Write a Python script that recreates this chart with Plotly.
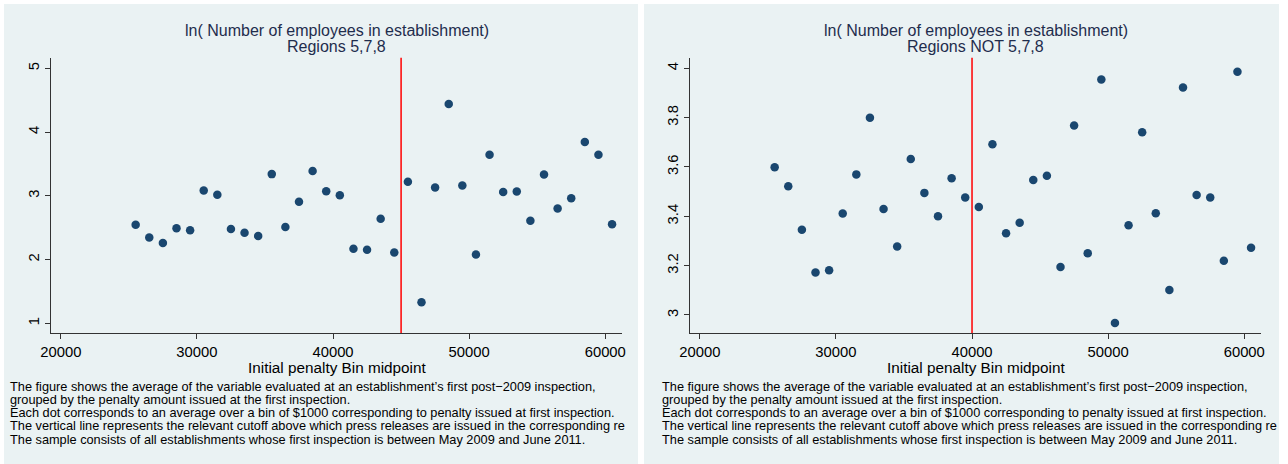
import plotly.graph_objects as go

W, H = 1288, 464

# ---- data ----
bins = [25500 + 1000 * i for i in range(36)]
left_vals = [2.545, 2.345, 2.26, 2.49, 2.46, 3.084, 3.016, 2.48, 2.42, 2.37,
             3.34, 2.51, 2.906, 3.39, 3.07, 3.01, 2.168, 2.152, 2.64, 2.11,
             3.22, 1.33, 3.13, 4.44, 3.16, 2.08, 3.644, 3.058, 3.068, 2.61,
             3.335, 2.80, 2.96, 3.843, 3.644, 2.555]
right_vals = [3.599, 3.522, 3.346, 3.172, 3.181, 3.411, 3.570, 3.80, 3.430, 3.278,
              3.632, 3.495, 3.40, 3.554, 3.476, 3.438, 3.692, 3.331, 3.374, 3.547,
              3.564, 3.195, 3.768, 3.25, 3.955, 2.968, 3.364, 3.741, 3.412, 3.101,
              3.922, 3.486, 3.476, 3.22, 3.986, 3.273]
left_cutoff = 45000
right_cutoff = 40000
x_ticks = [20000, 30000, 40000, 50000, 60000]
x_ticklabels = ["20000", "30000", "40000", "50000", "60000"]
left_yticks = [1, 2, 3, 4, 5]
left_yticklabels = ["1", "2", "3", "4", "5"]
right_yticks = [3, 3.2, 3.4, 3.6, 3.8, 4]
right_yticklabels = ["3", "3.2", "3.4", "3.6", "3.8", "4"]
title_main = "ln( Number of employees in establishment)"
left_sub = "Regions 5,7,8"
right_sub = "Regions NOT 5,7,8"
x_title = "Initial penalty Bin midpoint"
caption_lines = [
    "The figure shows the average of the variable evaluated at an establishment\u2019s first post\u22122009 inspection,",
    "grouped by the penalty amount issued at the first inspection.",
    "Each dot corresponds to an average over a bin of $1000 corresponding to penalty issued at first inspection.",
    "The vertical line represents the relevant cutoff above which press releases are issued in the corresponding re",
    "The sample consists of all establishments whose first inspection is between May 2009 and June 2011.",
]

# ---- styling ----
FONT = "Liberation Sans"
NAVY = "#1a476f"
BG = "#eaf2f3"
AXC = "#333333"

def px(x):
    return x / W

def py(y):
    return 1 - y / H

fig = go.Figure()
fig.add_trace(go.Scatter(x=bins, y=left_vals, mode="markers", xaxis="x", yaxis="y",
                         marker=dict(color=NAVY, size=8.5), showlegend=False, hoverinfo="skip"))
fig.add_trace(go.Scatter(x=bins, y=right_vals, mode="markers", xaxis="x2", yaxis="y2",
                         marker=dict(color=NAVY, size=8.5), showlegend=False, hoverinfo="skip"))

plot_top, plot_bot = 57.7, 333
ydom = [py(plot_bot), py(plot_top)]
common_x = dict(range=[19280, 61230], tickvals=x_ticks, ticktext=x_ticklabels,
                showgrid=False, zeroline=False, automargin=False,
                showline=True, linecolor=AXC, linewidth=1, ticks="outside", ticklen=5,
                tickcolor=AXC, tickfont=dict(family=FONT, size=14.8, color="black"))
common_y = dict(showgrid=True, gridcolor=BG, gridwidth=1, zeroline=False, automargin=False,
                showline=True, linecolor=AXC, linewidth=1, ticks="outside", ticklen=5,
                tickcolor=AXC, tickangle=-90,
                tickfont=dict(family=FONT, size=14.8, color="black"))

fig.update_layout(
    width=W, height=H, margin=dict(l=0, r=0, t=0, b=0, pad=0, autoexpand=False),
    paper_bgcolor="white", plot_bgcolor="white",
    xaxis=dict(domain=[px(51), px(622)], anchor="y", **common_x),
    yaxis=dict(domain=ydom, anchor="x", range=[0.848, 5.166], tickvals=left_yticks,
               ticktext=left_yticklabels, **common_y),
    xaxis2=dict(domain=[px(690), px(1261)], anchor="y2", **common_x),
    yaxis2=dict(domain=ydom, anchor="x2", range=[2.927, 4.043], tickvals=right_yticks,
                ticktext=right_yticklabels, **common_y),
)

shapes = [
    dict(type="rect", xref="paper", yref="paper", x0=px(4), x1=px(638), y0=0, y1=py(4),
         fillcolor=BG, line=dict(width=0), layer="below"),
    dict(type="rect", xref="paper", yref="paper", x0=px(644), x1=px(1279), y0=0, y1=py(4),
         fillcolor=BG, line=dict(width=0), layer="below"),
    dict(type="line", xref="x", yref="y domain", x0=left_cutoff, x1=left_cutoff, y0=0, y1=1,
         line=dict(color="red", width=1.5)),
    dict(type="line", xref="x2", yref="y2 domain", x0=right_cutoff, x1=right_cutoff, y0=0, y1=1,
         line=dict(color="red", width=1.5)),
]
fig.update_layout(shapes=shapes)

ann = []
TITLEC = "#1f2d4d"
for cx, sub, capx in [((51 + 622) / 2, left_sub, 8), ((690 + 1261) / 2, right_sub, 660)]:
    ann.append(dict(text=title_main, x=px(cx), y=py(31), xref="paper", yref="paper",
                    showarrow=False, xanchor="center", yanchor="middle",
                    font=dict(family=FONT, size=16, color=TITLEC)))
    ann.append(dict(text=sub, x=px(cx), y=py(46), xref="paper", yref="paper",
                    showarrow=False, xanchor="center", yanchor="middle",
                    font=dict(family=FONT, size=16, color=TITLEC)))
    ann.append(dict(text=x_title, x=px(cx), y=py(367), xref="paper", yref="paper",
                    showarrow=False, xanchor="center", yanchor="middle",
                    font=dict(family=FONT, size=15.3, color="black")))
    for i, line in enumerate(caption_lines):
        ann.append(dict(text=line, x=px(capx), y=py(386 + 13.3 * i), xref="paper", yref="paper",
                        showarrow=False, xanchor="left", yanchor="middle",
                        font=dict(family=FONT, size=12.75, color="black")))
fig.update_layout(annotations=ann)

fig.write_html(
    "out.html",
    config={"displayModeBar": False},
    post_script=(
        "document.documentElement.style.margin='0';"
        "document.body.style.margin='0';document.body.style.padding='0';"
        "var d=document.getElementById('{plot_id}');"
        "d.style.position='absolute';d.style.left='0px';d.style.top='0px';"
    ),
)
